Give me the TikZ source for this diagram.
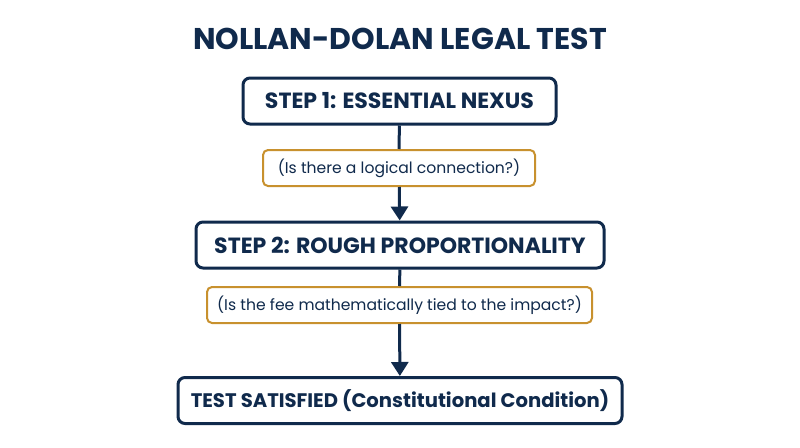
\documentclass[tikz,border=0pt]{standalone}
\usepackage{fontspec}
\setmainfont{Poppins}
\usetikzlibrary{arrows.meta}
\definecolor{navy}{HTML}{102A4C}
\definecolor{gold}{HTML}{C8912E}
\begin{document}
\begin{tikzpicture}[x=1pt,y=-1pt,
 stepbox/.style={draw=navy,line width=3pt,rounded corners=7pt,fill=white,text=navy,font=\bfseries\fontsize{22}{24}\selectfont,minimum height=46pt,inner xsep=0pt},
 q/.style={draw=gold,line width=2pt,rounded corners=5pt,fill=white,text=navy,font=\fontsize{15.6}{18}\selectfont,minimum height=36pt,inner xsep=0pt},
 con/.style={draw=navy,line width=3pt},
 arr/.style={con,-{Triangle[length=14pt,width=17pt]}}]
\useasboundingbox (0,0) rectangle (800,447);
\node[font=\bfseries\fontsize{30}{32}\selectfont,text=navy] (t) at (400,39) {NOLLAN-DOLAN LEGAL TEST};
\node[stepbox,minimum width=313pt] (s1) at (399.5,101) {STEP 1: ESSENTIAL NEXUS};
\node[q,minimum width=272pt] (q1) at (399,168) {(Is there a logical connection?)};
\node[stepbox,minimum width=408pt] (s2) at (400,245) {STEP 2: ROUGH PROPORTIONALITY};
\node[q,minimum width=385pt] (q2) at (399.5,305) {(Is the fee mathematically tied to the impact?)};
\node[stepbox,minimum width=444pt,font=\bfseries\fontsize{19.6}{22}\selectfont] (s3) at (400,400.5) {TEST SATISFIED (Constitutional Condition)};
\draw[con] (s1) -- (q1);
\draw[arr] (q1) -- (s2);
\draw[con] (s2) -- (q2);
\draw[arr] (q2) -- (s3);
\end{tikzpicture}
\end{document}
